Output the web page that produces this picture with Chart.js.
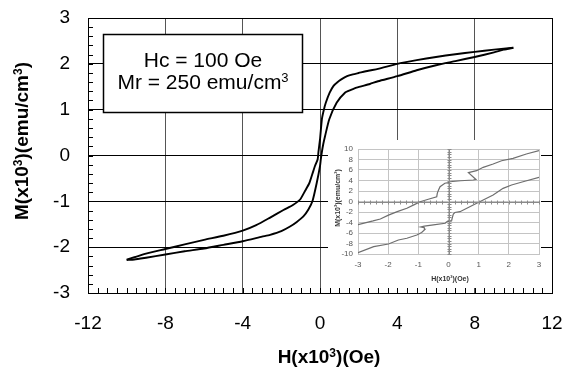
<!DOCTYPE html>
<html><head><meta charset="utf-8">
<script src="https://cdn.jsdelivr.net/npm/chart.js@4.4.1/dist/chart.umd.min.js"></script>
<style>
html,body{margin:0;padding:0;background:#fff;}
#wrap{position:relative;width:564px;height:368px;overflow:hidden;}
#main{position:absolute;left:0;top:0;}
#inset{position:absolute;left:328px;top:140px;background:#fff;}
</style></head><body>
<div id="wrap"><canvas id="main" width="564" height="368"></canvas><canvas id="inset" width="213" height="148"></canvas></div>
<script>
// ---------- main loop data: H (x10^3 Oe), M (x10^3 emu/cm^3) ----------
const hDesc = [10, 9.5, 9, 8, 7, 6, 5, 4, 3, 2.5, 2, 1.7, 1.4, 1.1, 0.9, 0.7, 0.5, 0.3, 0.2, 0.1, 0, -0.08, -0.12, -0.26, -0.4, -0.55, -0.77, -1.03, -1.4, -1.89, -2.6, -3.3, -4, -5, -6, -7, -8, -9, -9.6, -10];
const mDesc = [2.35, 2.33, 2.31, 2.26, 2.21, 2.15, 2.08, 2.0, 1.89, 1.85, 1.80, 1.77, 1.73, 1.66, 1.60, 1.52, 1.37, 1.15, 1.0, 0.8, 0.35, 0.08, -0.08, -0.23, -0.41, -0.6, -0.77, -0.96, -1.08, -1.19, -1.36, -1.52, -1.64, -1.75, -1.84, -1.94, -2.04, -2.14, -2.22, -2.27];
const hAsc = [-10, -9.6, -9, -8, -7, -6, -5, -4, -3, -2.58, -2, -1.55, -1.2, -0.86, -0.6, -0.38, -0.17, 0, 0.04, 0.09, 0.17, 0.26, 0.48, 0.86, 1.29, 1.6, 1.89, 2.58, 3, 4, 5, 6, 7, 8, 9, 9.5, 10];
const mAsc = [-2.28, -2.27, -2.23, -2.16, -2.09, -2.03, -1.95, -1.87, -1.77, -1.73, -1.65, -1.55, -1.45, -1.33, -1.18, -0.98, -0.6, -0.23, -0.09, 0.06, 0.25, 0.42, 0.79, 1.15, 1.37, 1.43, 1.48, 1.56, 1.62, 1.73, 1.86, 1.97, 2.06, 2.15, 2.25, 2.31, 2.35];
const xTicks = [-12, -8, -4, 0, 4, 8, 12];
const yTicks = [-3, -2, -1, 0, 1, 2, 3];

// ---------- inset data ----------
const insetHUp = [-3, -2.5, -2.26, -1.99, -1.7, -1.38, -1.15, -0.94, -0.67, -0.39, -0.37, -0.33, -0.28, -0.12, 0, 0.05, 0.4, 0.82, 0.91, 0.66, 0.93, 1.15, 1.48, 1.76, 2.14, 2.58, 3];
const insetMUp = [-4.4, -3.7, -3.33, -2.6, -1.93, -1.29, -0.64, -0.04, 0.42, 0.91, 1.6, 2.2, 2.82, 3.47, 3.6, 3.77, 3.95, 4.1, 4.2, 5.49, 5.87, 6.51, 7.14, 7.77, 8.22, 9.05, 9.68];
const insetHLow = [-3, -2.48, -1.99, -1.66, -1.38, -1.05, -0.89, -0.78, -0.8, -0.92, -0.8, -0.5, -0.11, -0.06, 0.1, 0.13, 0.16, 0.21, 0.38, 0.82, 1.15, 1.48, 1.81, 2.09, 2.47, 3];
const insetMLow = [-9.75, -8.6, -8.1, -7.33, -7.0, -6.38, -5.9, -5.3, -5.0, -4.85, -4.7, -4.45, -4.15, -3.85, -3.7, -3.0, -2.4, -2.1, -1.94, -0.67, 0.29, 1.24, 2.51, 3.14, 3.77, 4.6];
const insetXTicks = [-3, -2, -1, 0, 1, 2, 3];
const insetYTicks = [-10, -8, -6, -4, -2, 0, 2, 4, 6, 8, 10];

const zip = (xs, ys) => xs.map((x, i) => ({x: x, y: ys[i]}));
const FONT = "'Liberation Sans', Arial, sans-serif";
Chart.defaults.font.family = FONT;

function drawRich(ctx, parts, cx, cy, size, bold, rot, color) {
  ctx.save();
  ctx.translate(cx, cy);
  if (rot) ctx.rotate(rot);
  const b = bold ? 'bold ' : '';
  const base = b + size + 'px ' + FONT;
  const sup = b + Math.round(size * 0.62) + 'px ' + FONT;
  let w = 0;
  parts.forEach(p => { ctx.font = p[1] ? sup : base; w += ctx.measureText(p[0]).width; });
  let x = -w / 2;
  ctx.textBaseline = 'alphabetic'; ctx.textAlign = 'left'; ctx.fillStyle = color || '#000';
  const baseY = size * 0.358;
  parts.forEach(p => {
    ctx.font = p[1] ? sup : base;
    ctx.fillText(p[0], x, p[1] ? baseY - size * 0.33 : baseY);
    x += ctx.measureText(p[0]).width;
  });
  ctx.restore();
}

// scale size fixers: fixed axis thickness, no automatic label padding
const fixX = h => s => { s.height = h; s.paddingLeft = 0; s.paddingRight = 0; s.paddingTop = 0; s.paddingBottom = 0; };
const fixY = w => s => { s.width = w; s.paddingLeft = 0; s.paddingRight = 0; s.paddingTop = 0; s.paddingBottom = 0; };

const mainDecor = {
  id: 'mainDecor',
  afterDatasetsDraw(chart) {
    const {ctx, chartArea: a, scales: {x, y}} = chart;
    ctx.save();
    // minor ticks (inside)
    ctx.strokeStyle = '#000'; ctx.lineWidth = 1;
    ctx.beginPath();
    for (let i = 0; i <= 30; i++) {
      const py = Math.round(y.getPixelForValue(-3 + i * 0.2)) + 0.5;
      ctx.moveTo(a.left, py); ctx.lineTo(a.left + 5, py);
    }
    for (let i = 0; i <= 48; i++) {
      const px = Math.round(x.getPixelForValue(-12 + i * 0.5)) + 0.5;
      ctx.moveTo(px, a.bottom); ctx.lineTo(px, a.bottom - 5);
    }
    ctx.stroke();
    // text box
    const bl = a.left + 15.5, bt = a.top + 16.5, bw = 199, bh = 78;
    ctx.fillStyle = '#fff';
    ctx.fillRect(bl, bt, bw, bh);
    ctx.lineWidth = 1.5; ctx.strokeStyle = '#000';
    ctx.strokeRect(bl, bt, bw, bh);
    const cx = bl + bw / 2;
    drawRich(ctx, [['Hc = 100 Oe', false]], cx, bt + 24.5, 21, false, 0);
    drawRich(ctx, [['Mr = 250 emu/cm', false], ['3', true]], cx, bt + 46.5, 21, false, 0);
    ctx.restore();
    // axis titles
    drawRich(ctx, [['H(x10', false], ['3', true], [')(Oe)', false]], 329, 356.5, 19, true, 0);
    drawRich(ctx, [['M(x10', false], ['3', true], [')(emu/cm', false], ['3', true], [')', false]], 21, 141, 19, true, -Math.PI / 2);
  }
};

const mainChart = new Chart(document.getElementById('main'), {
  type: 'scatter',
  data: { datasets: [
    { data: zip(hDesc, mDesc), showLine: true, borderColor: '#000', borderWidth: 1.9, pointRadius: 0, tension: 0.2, fill: false },
    { data: zip(hAsc, mAsc), showLine: true, borderColor: '#000', borderWidth: 1.9, pointRadius: 0, tension: 0.2, fill: false }
  ]},
  options: {
    responsive: false, animation: false, events: [],
    layout: { padding: { top: 18, right: 12, left: 0, bottom: 0 } },
    plugins: { legend: { display: false }, tooltip: { enabled: false } },
    scales: {
      x: {
        type: 'linear', min: -12, max: 12,
        afterBuildTicks: s => { s.ticks = xTicks.map(v => ({value: v})); },
        ticks: { color: '#000', font: { size: 19 }, padding: 19, maxRotation: 0, autoSkip: false, callback: v => String(v) },
        grid: { color: c => (c.tick && Math.abs(c.tick.value) === 12) ? '#000' : '#555', lineWidth: 1, drawTicks: false },
        border: { color: '#000', width: 1 },
        afterFit: fixX(75)
      },
      y: {
        type: 'linear', min: -3, max: 3,
        afterBuildTicks: s => { s.ticks = yTicks.map(v => ({value: v})); },
        ticks: { color: '#000', font: { size: 19 }, padding: 18, autoSkip: false, callback: v => String(v) },
        grid: { color: '#000', lineWidth: 1, drawTicks: false },
        border: { color: '#000', width: 1 },
        afterFit: fixY(88)
      }
    }
  },
  plugins: [mainDecor]
});

const insetDecor = {
  id: 'insetDecor',
  afterDatasetsDraw(chart) {
    const {ctx, chartArea: a, scales: {x, y}} = chart;
    ctx.save();
    ctx.strokeStyle = '#8a8a8a'; ctx.lineWidth = 1;
    const x0 = Math.round(x.getPixelForValue(0)) + 0.5;
    const y0 = Math.round(y.getPixelForValue(0)) + 0.5;
    ctx.beginPath();
    ctx.moveTo(a.left, y0); ctx.lineTo(a.right, y0);
    ctx.moveTo(x0, a.top); ctx.lineTo(x0, a.bottom);
    for (let i = 0; i <= 30; i++) {
      const px = Math.round(x.getPixelForValue(-3 + i * 0.2)) + 0.5;
      ctx.moveTo(px, y0 - 2); ctx.lineTo(px, y0 + 2);
    }
    for (let i = 0; i <= 40; i++) {
      const py = Math.round(y.getPixelForValue(-10 + i * 0.5)) + 0.5;
      ctx.moveTo(x0 - 2, py); ctx.lineTo(x0 + 2, py);
    }
    ctx.stroke();
    ctx.restore();
    drawRich(ctx, [['H(x10', false], ['3', true], [')(Oe)', false]], 122, 138, 7, true, 0, '#333');
    drawRich(ctx, [['M(x10', false], ['3', true], [')(emu/cm', false], ['3', true], [')', false]], 9, 58, 7, true, -Math.PI / 2, '#333');
  }
};

const insetChart = new Chart(document.getElementById('inset'), {
  type: 'scatter',
  data: { datasets: [
    { data: zip(insetHUp, insetMUp), showLine: true, borderColor: '#6e6e6e', borderWidth: 1.2, pointRadius: 0, tension: 0, fill: false },
    { data: zip(insetHLow, insetMLow), showLine: true, borderColor: '#6e6e6e', borderWidth: 1.2, pointRadius: 0, tension: 0, fill: false }
  ]},
  options: {
    responsive: false, animation: false, events: [],
    layout: { padding: { top: 9, right: 2, left: 0, bottom: 0 } },
    plugins: { legend: { display: false }, tooltip: { enabled: false } },
    scales: {
      x: {
        type: 'linear', min: -3, max: 3,
        afterBuildTicks: s => { s.ticks = insetXTicks.map(v => ({value: v})); },
        ticks: { color: '#555', font: { size: 8 }, padding: 6, maxRotation: 0, autoSkip: false, callback: v => String(v) },
        grid: { color: '#c4c4c4', lineWidth: 1, drawTicks: false },
        border: { color: '#c4c4c4', width: 1 },
        afterFit: fixX(34)
      },
      y: {
        type: 'linear', min: -10, max: 10,
        afterBuildTicks: s => { s.ticks = insetYTicks.map(v => ({value: v})); },
        ticks: { color: '#555', font: { size: 8 }, padding: 5, autoSkip: false, callback: v => String(v) },
        grid: { color: '#c4c4c4', lineWidth: 1, drawTicks: false },
        border: { color: '#c4c4c4', width: 1 },
        afterFit: fixY(30)
      }
    }
  },
  plugins: [insetDecor]
});
</script></body></html>
